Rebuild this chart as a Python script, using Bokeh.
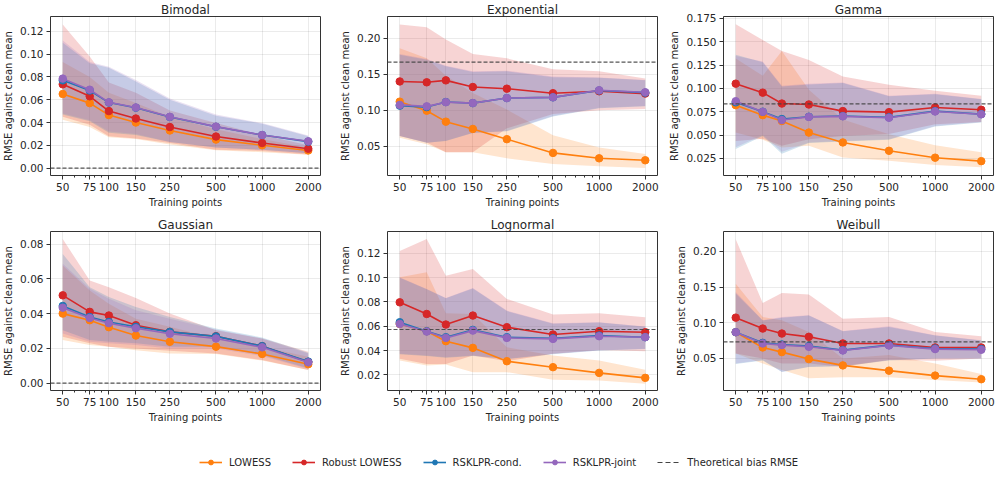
from bokeh.plotting import figure
from bokeh.layouts import column, row
from bokeh.models import (Range1d, FixedTicker, CustomJSTickFormatter, NumeralTickFormatter,
                          Span, Legend, LegendItem)
from bokeh.embed import file_html
from bokeh.resources import INLINE

# ---------------- data ----------------
N = [50, 75, 100, 150, 250, 500, 1000, 2000]
METHODS = ["LOWESS", "Robust LOWESS", "RSKLPR-cond.", "RSKLPR-joint"]
COLORS = ["#ff7f0e", "#d62728", "#1f77b4", "#9467bd"]
X_MINOR = [60, 70, 80, 90, 200, 300, 400, 600, 700, 800, 900]

bimodal_mean = {
    "LOWESS": [0.065, 0.057, 0.0465, 0.040, 0.033, 0.025, 0.020, 0.0155],
    "Robust LOWESS": [0.0735, 0.063, 0.050, 0.0435, 0.036, 0.0277, 0.022, 0.017],
    "RSKLPR-cond.": [0.077, 0.068, 0.0575, 0.053, 0.0448, 0.0362, 0.029, 0.0232],
    "RSKLPR-joint": [0.0785, 0.0688, 0.0577, 0.0532, 0.045, 0.0364, 0.029, 0.0235],
}
bimodal_low = {
    "LOWESS": [0.0425, 0.036, 0.027, 0.0256, 0.0206, 0.0157, 0.014, 0.0116],
    "Robust LOWESS": [0.045, 0.038, 0.028, 0.026, 0.022, 0.016, 0.015, 0.012],
    "RSKLPR-cond.": [0.047, 0.041, 0.031, 0.029, 0.023, 0.018, 0.016, 0.013],
    "RSKLPR-joint": [0.048, 0.042, 0.032, 0.030, 0.023, 0.018, 0.016, 0.013],
}
bimodal_high = {
    "LOWESS": [0.093, 0.080, 0.066, 0.057, 0.045, 0.034, 0.0256, 0.018],
    "Robust LOWESS": [0.126, 0.098, 0.075, 0.066, 0.0506, 0.0395, 0.029, 0.020],
    "RSKLPR-cond.": [0.110, 0.092, 0.088, 0.076, 0.060, 0.046, 0.039, 0.028],
    "RSKLPR-joint": [0.112, 0.093, 0.089, 0.0773, 0.061, 0.047, 0.0395, 0.0285],
}

exponential_mean = {
    "LOWESS": [0.112, 0.0995, 0.0843, 0.0742, 0.060, 0.041, 0.0335, 0.0308],
    "Robust LOWESS": [0.140, 0.1388, 0.1415, 0.1323, 0.130, 0.1237, 0.1264, 0.1232],
    "RSKLPR-cond.": [0.1065, 0.1045, 0.1115, 0.110, 0.117, 0.118, 0.1275, 0.1245],
    "RSKLPR-joint": [0.1075, 0.1055, 0.1113, 0.110, 0.117, 0.118, 0.1278, 0.125],
}
exponential_low = {
    "LOWESS": [0.062, 0.053, 0.042, 0.042, 0.0335, 0.0258, 0.0226, 0.020],
    "Robust LOWESS": [0.0646, 0.0555, 0.0418, 0.0418, 0.075, 0.095, 0.100, 0.102],
    "RSKLPR-cond.": [0.0646, 0.055, 0.0575, 0.0685, 0.071, 0.0915, 0.103, 0.1055],
    "RSKLPR-joint": [0.0646, 0.055, 0.0578, 0.069, 0.0715, 0.092, 0.1035, 0.106],
}
exponential_high = {
    "LOWESS": [0.186, 0.172, 0.148, 0.124, 0.101, 0.0656, 0.0486, 0.0395],
    "Robust LOWESS": [0.219, 0.215, 0.198, 0.178, 0.172, 0.157, 0.154, 0.144],
    "RSKLPR-cond.": [0.177, 0.170, 0.161, 0.153, 0.154, 0.146, 0.145, 0.1415],
    "RSKLPR-joint": [0.178, 0.171, 0.1616, 0.154, 0.155, 0.147, 0.1456, 0.142],
}

gamma_mean = {
    "LOWESS": [0.082, 0.0713, 0.065, 0.0526, 0.042, 0.0331, 0.0257, 0.022],
    "Robust LOWESS": [0.105, 0.0954, 0.0837, 0.0827, 0.0756, 0.0745, 0.0795, 0.077],
    "RSKLPR-cond.": [0.085, 0.075, 0.0671, 0.0696, 0.0703, 0.0689, 0.0756, 0.0724],
    "RSKLPR-joint": [0.0862, 0.0748, 0.066, 0.0694, 0.070, 0.0685, 0.0752, 0.0722],
}
gamma_low = {
    "LOWESS": [0.0526, 0.0448, 0.0367, 0.0384, 0.026, 0.0225, 0.0179, 0.0155],
    "Robust LOWESS": [0.0437, 0.046, 0.0384, 0.0455, 0.049, 0.051, 0.0614, 0.0639],
    "RSKLPR-cond.": [0.035, 0.049, 0.030, 0.0415, 0.043, 0.045, 0.059, 0.0635],
    "RSKLPR-joint": [0.037, 0.050, 0.032, 0.042, 0.0437, 0.0455, 0.0597, 0.064],
}
gamma_high = {
    "LOWESS": [0.132, 0.1134, 0.140, 0.0986, 0.0667, 0.0508, 0.039, 0.0314],
    "Robust LOWESS": [0.1686, 0.1517, 0.140, 0.1304, 0.1127, 0.1039, 0.0975, 0.0922],
    "RSKLPR-cond.": [0.136, 0.128, 0.102, 0.104, 0.1058, 0.0915, 0.0938, 0.0882],
    "RSKLPR-joint": [0.1347, 0.1287, 0.1028, 0.105, 0.1064, 0.0922, 0.0943, 0.0887],
}

gaussian_mean = {
    "LOWESS": [0.040, 0.0362, 0.0322, 0.0274, 0.0238, 0.021, 0.0168, 0.0109],
    "Robust LOWESS": [0.0505, 0.041, 0.0389, 0.0333, 0.0295, 0.027, 0.0213, 0.0122],
    "RSKLPR-cond.": [0.0444, 0.038, 0.0352, 0.0324, 0.0295, 0.0269, 0.0213, 0.0124],
    "RSKLPR-joint": [0.0434, 0.0375, 0.0345, 0.0316, 0.0284, 0.0257, 0.0206, 0.012],
}
gaussian_low = {
    "LOWESS": [0.0248, 0.0219, 0.021, 0.019, 0.0171, 0.0168, 0.013, 0.0076],
    "Robust LOWESS": [0.0267, 0.0229, 0.021, 0.020, 0.0187, 0.0171, 0.0133, 0.0076],
    "RSKLPR-cond.": [0.0305, 0.0248, 0.0238, 0.0229, 0.021, 0.021, 0.0162, 0.0086],
    "RSKLPR-joint": [0.0286, 0.0238, 0.0229, 0.0219, 0.020, 0.020, 0.0156, 0.0082],
}
gaussian_high = {
    "LOWESS": [0.0676, 0.0533, 0.0457, 0.0371, 0.0324, 0.0257, 0.021, 0.0152],
    "Robust LOWESS": [0.0829, 0.059, 0.0552, 0.049, 0.040, 0.0305, 0.0257, 0.0181],
    "RSKLPR-cond.": [0.0743, 0.0552, 0.0495, 0.0438, 0.038, 0.0314, 0.0263, 0.0175],
    "RSKLPR-joint": [0.0686, 0.0543, 0.0486, 0.0419, 0.0371, 0.0309, 0.0257, 0.0171],
}

lognormal_mean = {
    "LOWESS": [0.0619, 0.0559, 0.0477, 0.0422, 0.0312, 0.0263, 0.0216, 0.0175],
    "Robust LOWESS": [0.0797, 0.0701, 0.0614, 0.0688, 0.0592, 0.0532, 0.0559, 0.0551],
    "RSKLPR-cond.": [0.0633, 0.0559, 0.051, 0.057, 0.051, 0.0501, 0.0523, 0.051],
    "RSKLPR-joint": [0.0619, 0.0556, 0.0504, 0.0564, 0.0504, 0.0496, 0.0518, 0.051],
}
lognormal_low = {
    "LOWESS": [0.0318, 0.0277, 0.0285, 0.0222, 0.0222, 0.0159, 0.0153, 0.0126],
    "Robust LOWESS": [0.0332, 0.029, 0.029, 0.0359, 0.0312, 0.0373, 0.0405, 0.0395],
    "RSKLPR-cond.": [0.037, 0.0355, 0.034, 0.0355, 0.033, 0.037, 0.040, 0.0412],
    "RSKLPR-joint": [0.0373, 0.0359, 0.0345, 0.0359, 0.0332, 0.0373, 0.040, 0.0414],
}
lognormal_high = {
    "LOWESS": [0.1003, 0.1044, 0.0707, 0.0701, 0.0427, 0.0359, 0.0318, 0.0241],
    "Robust LOWESS": [0.122, 0.1318, 0.1016, 0.1071, 0.0825, 0.0696, 0.0707, 0.0674],
    "RSKLPR-cond.": [0.100, 0.0905, 0.083, 0.091, 0.0725, 0.062, 0.063, 0.0595],
    "RSKLPR-joint": [0.1003, 0.0907, 0.0833, 0.0915, 0.0729, 0.0625, 0.0633, 0.0597],
}

weibull_mean = {
    "LOWESS": [0.0867, 0.0653, 0.0588, 0.049, 0.0402, 0.0328, 0.0259, 0.0208],
    "Robust LOWESS": [0.1071, 0.0918, 0.0848, 0.0802, 0.0709, 0.0709, 0.0653, 0.0653],
    "RSKLPR-cond.": [0.0867, 0.0718, 0.0695, 0.0672, 0.0616, 0.0686, 0.0639, 0.063],
    "RSKLPR-joint": [0.0867, 0.0709, 0.0686, 0.0662, 0.0611, 0.0681, 0.063, 0.0621],
}
weibull_low = {
    "LOWESS": [0.057, 0.043, 0.0338, 0.0221, 0.0235, 0.0235, 0.0198, 0.0161],
    "Robust LOWESS": [0.057, 0.050, 0.043, 0.043, 0.0384, 0.0477, 0.0468, 0.050],
    "RSKLPR-cond.": [0.042, 0.047, 0.031, 0.038, 0.039, 0.047, 0.050, 0.050],
    "RSKLPR-joint": [0.043, 0.0477, 0.0314, 0.0384, 0.0393, 0.0477, 0.05, 0.05],
}
weibull_high = {
    "LOWESS": [0.1545, 0.108, 0.1034, 0.0871, 0.05, 0.0546, 0.043, 0.0282],
    "Robust LOWESS": [0.2171, 0.1275, 0.1415, 0.1396, 0.1057, 0.108, 0.0871, 0.0811],
    "RSKLPR-cond.": [0.141, 0.103, 0.107, 0.110, 0.088, 0.094, 0.082, 0.075],
    "RSKLPR-joint": [0.1429, 0.1034, 0.108, 0.1104, 0.0885, 0.095, 0.0825, 0.0755],
}

TITLES = ["Bimodal", "Exponential", "Gamma", "Gaussian", "Lognormal", "Weibull"]
THEORY = [0.0, 0.1667, 0.0833, 0.0, 0.0573, 0.0732]
Y_TICKS = [
    [0.00, 0.02, 0.04, 0.06, 0.08, 0.10, 0.12],
    [0.05, 0.10, 0.15, 0.20],
    [0.025, 0.050, 0.075, 0.100, 0.125, 0.150, 0.175],
    [0.00, 0.02, 0.04, 0.06, 0.08],
    [0.02, 0.04, 0.06, 0.08, 0.10, 0.12],
    [0.05, 0.10, 0.15, 0.20],
]
Y_FORMATS = ["0.00", "0.00", "0.000", "0.00", "0.00", "0.00"]
Y_RANGES = [(-0.0065, 0.133), (0.0097, 0.230), (0.0066, 0.177),
            (-0.0042, 0.0872), (0.0071, 0.138), (0.005, 0.2278)]
MEANS = [bimodal_mean, exponential_mean, gamma_mean, gaussian_mean, lognormal_mean, weibull_mean]
LOWS = [bimodal_low, exponential_low, gamma_low, gaussian_low, lognormal_low, weibull_low]
HIGHS = [bimodal_high, exponential_high, gamma_high, gaussian_high, lognormal_high, weibull_high]

# ---------------- layout ----------------
FONT = "DejaVu Sans"
TXT = "#262626"
BORDERS_L = [46, 59, 62]
BORDERS_R = [8, 4, 3]
FRAME_W = [270, 270, 270]
FRAME_H = 159


def make_panel(i):
    col = i % 3
    rowi = i // 3
    p = figure(
        title=TITLES[i], x_axis_type="log",
        x_range=Range1d(41.6, 2404), y_range=Range1d(*Y_RANGES[i]),
        frame_width=FRAME_W[col], frame_height=FRAME_H,
        min_border_left=BORDERS_L[col], min_border_right=BORDERS_R[col],
        min_border_top=0, min_border_bottom=40 if rowi == 0 else 34,
        output_backend="svg", toolbar_location=None,
        background_fill_color="white", border_fill_color="white",
    )
    p.title.align = "center"
    p.title.text_font = FONT
    p.title.text_font_size = "12px"
    p.title.text_font_style = "normal"
    p.title.text_color = TXT
    p.title.standoff = 0

    for k, m in enumerate(METHODS):
        p.varea(x=N, y1=LOWS[i][m], y2=HIGHS[i][m], fill_color=COLORS[k], fill_alpha=0.2)
    for k, m in enumerate(METHODS):
        p.line(x=N, y=MEANS[i][m], line_color=COLORS[k], line_width=1.6)
        p.scatter(x=N, y=MEANS[i][m], marker="circle", size=7.5,
                  fill_color=COLORS[k], line_color=COLORS[k])

    p.add_layout(Span(location=THEORY[i], dimension="width", line_color="#444444",
                      line_alpha=0.9, line_dash="4 2", line_width=1.2))

    p.xaxis.ticker = FixedTicker(ticks=N, minor_ticks=X_MINOR)
    p.xaxis.formatter = CustomJSTickFormatter(code="return Math.round(tick).toString();")
    p.yaxis.ticker = FixedTicker(ticks=Y_TICKS[i])
    p.yaxis.formatter = NumeralTickFormatter(format=Y_FORMATS[i])
    p.xaxis.axis_label = "Training points"
    p.yaxis.axis_label = "RMSE against clean mean"

    for ax in (p.xaxis, p.yaxis):
        ax.axis_line_color = None
        ax.major_tick_in = 0
        ax.major_tick_out = 4
        ax.minor_tick_in = 0
        ax.minor_tick_out = 2
        ax.major_tick_line_color = "#333333"
        ax.minor_tick_line_color = "#333333"
        ax.major_label_text_font = FONT
        ax.major_label_text_font_size = "10.5px"
        ax.major_label_text_color = TXT
        ax.axis_label_text_font = FONT
        ax.axis_label_text_font_size = "10px"
        ax.axis_label_text_font_style = "normal"
        ax.axis_label_text_color = TXT
        ax.major_label_standoff = 3
        ax.axis_label_standoff = 3
    p.grid.grid_line_color = "#000000"
    p.grid.grid_line_alpha = 0.08
    p.outline_line_color = "#333333"
    p.outline_line_width = 1
    p.outline_line_alpha = 1
    return p


panels = [make_panel(i) for i in range(6)]

# legend figure: renderers hold real series data but sit outside the visible range
leg = figure(width=992, height=44, x_range=Range1d(-2, -1), y_range=Range1d(-2, -1),
             x_axis_type=None, y_axis_type=None, output_backend="svg",
             toolbar_location=None, min_border=0, outline_line_color=None)
leg.grid.visible = False
items = []
for k, m in enumerate(METHODS):
    r1 = leg.line(x=N, y=bimodal_mean[m], line_color=COLORS[k], line_width=1.6)
    r2 = leg.scatter(x=N, y=bimodal_mean[m], marker="circle", size=7,
                     fill_color=COLORS[k], line_color=COLORS[k])
    items.append(LegendItem(label=m, renderers=[r1, r2]))
r3 = leg.line(x=N, y=bimodal_mean["LOWESS"], line_color="#444444", line_dash="5 3", line_width=1.2)
items.append(LegendItem(label="Theoretical bias RMSE", renderers=[r3]))
legend = Legend(items=items, orientation="horizontal", location=(199, 1),
                border_line_color=None, background_fill_alpha=0,
                label_text_font=FONT, label_text_font_size="10px", label_text_color=TXT,
                glyph_width=23, glyph_height=12, spacing=21, label_standoff=7,
                padding=0, margin=0)
leg.add_layout(legend, "center")

layout = column(row(*panels[:3]), row(*panels[3:]), leg, spacing=0)
open("out.html", "w").write(file_html(layout, INLINE))
